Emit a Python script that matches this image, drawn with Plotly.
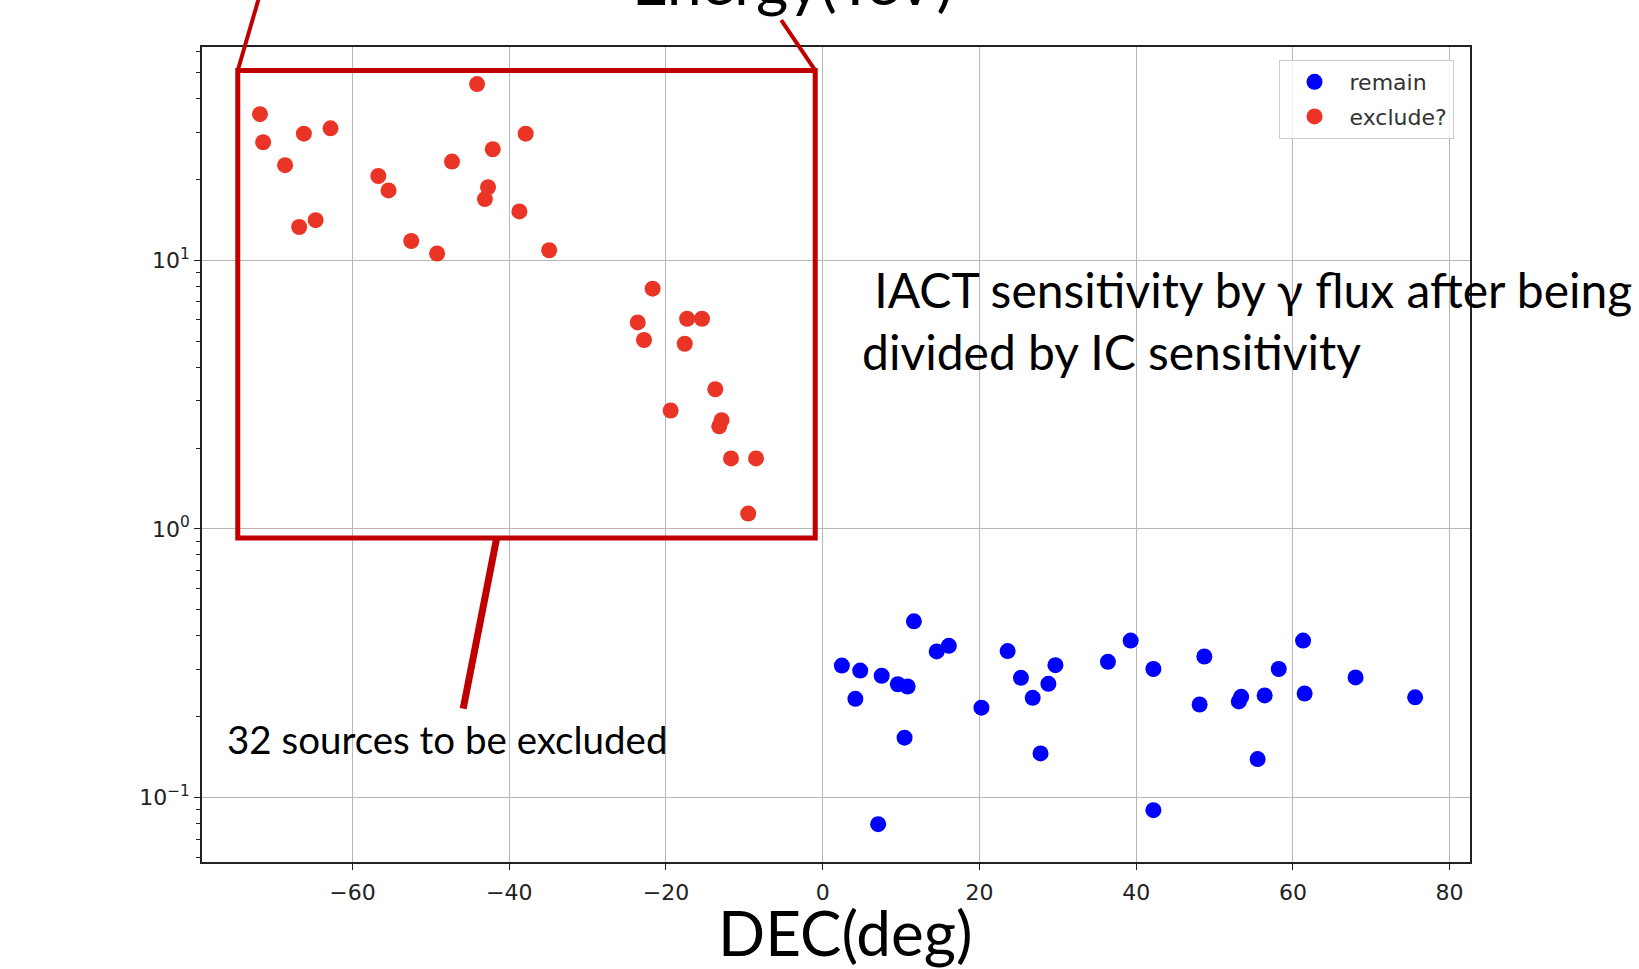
import plotly.graph_objects as go

# ---- data ----
exclude_dec = [-71.8, -71.4, -68.6, -66.2, -62.8, -66.8, -64.7, -56.7, -55.4, -52.5,
               -49.2, -44.1, -47.3, -42.1, -42.7, -43.1, -37.9, -38.7, -34.9, -21.7,
               -23.6, -22.8, -17.3, -15.4, -17.6, -13.7, -19.4, -12.9, -13.2, -11.7,
               -8.5, -9.5]
exclude_val = [35.0, 27.5, 22.6, 29.6, 31.0, 13.3, 14.1, 20.6, 18.2, 11.8,
               10.6, 45.3, 23.3, 25.9, 18.7, 16.9, 29.6, 15.2, 10.9, 7.84,
               5.87, 5.05, 6.06, 6.06, 4.89, 3.31, 2.76, 2.54, 2.41, 1.83,
               1.83, 1.14]

remain_dec = [2.45, 4.17, 4.79, 7.53, 7.08, 9.59, 10.84, 10.45, 11.64, 14.55,
              16.1, 20.26, 23.6, 25.3, 26.8, 27.8, 28.8, 29.7, 36.4, 39.3,
              42.2, 42.2, 48.7, 48.1, 53.1, 53.4, 56.4, 58.2, 61.3, 61.5,
              55.5, 68.0, 75.6]
remain_val = [0.310, 0.233, 0.297, 0.284, 0.0796, 0.264, 0.259, 0.167, 0.453, 0.350,
              0.367, 0.216, 0.351, 0.279, 0.235, 0.146, 0.265, 0.311, 0.320, 0.384,
              0.301, 0.0897, 0.335, 0.222, 0.228, 0.237, 0.240, 0.301, 0.384, 0.244,
              0.139, 0.280, 0.236]

x_ticks = [-60, -40, -20, 0, 20, 40, 60, 80]
x_tick_text = ["\u221260", "\u221240", "\u221220", "0", "20", "40", "60", "80"]
y_ticks = [0.1, 1, 10]
y_tick_text = ["10<sup>\u22121</sup>", "10<sup>0</sup>", "10<sup>1</sup>"]

RED = "#EA3526"
BLUE = "#0000FF"
BOX = "#C00000"

fig = go.Figure()
fig.add_trace(go.Scatter(x=remain_dec, y=remain_val, mode="markers", name="remain",
                         legendgroup="a", marker=dict(color=BLUE, size=16)))
fig.add_trace(go.Scatter(x=exclude_dec, y=exclude_val, mode="markers", name="exclude?",
                         legendgroup="b", marker=dict(color=RED, size=16)))

axis_common = dict(showline=True, linecolor="#222", linewidth=1.5, mirror=True,
                   gridcolor="#b8b8b8", gridwidth=1, ticks="outside", ticklen=6,
                   tickcolor="#222", tickfont=dict(family="DejaVu Sans", size=22, color="#222"),
                   zeroline=False)

fig.update_layout(
    width=1639, height=969,
    margin=dict(l=202, r=169, t=47, b=107),
    paper_bgcolor="white", plot_bgcolor="white",
    xaxis=dict(range=[-79.2, 82.6], tickvals=x_ticks, ticktext=x_tick_text,
               ticklabelstandoff=4, **axis_common),
    yaxis=dict(type="log", range=[-1.240, 1.794], tickvals=y_ticks, ticktext=y_tick_text,
               minor=dict(ticks="outside", ticklen=4, tickcolor="#222", dtick="D1", showgrid=False),
               **axis_common),
    legend=dict(x=0.849, y=0.984, xanchor="left", yanchor="top",
                bgcolor="rgba(255,255,255,0.8)", bordercolor="#cccccc", borderwidth=1,
                itemwidth=60, tracegroupgap=3, traceorder="grouped",
                font=dict(family="DejaVu Sans", size=22, color="#333")),
    showlegend=True,
)

# x-axis title placed as in the slide
fig.add_annotation(xref="paper", yref="paper", x=0.5072, y=-0.0855, xanchor="center", yanchor="middle",
                   text="DEC(deg)", showarrow=False, borderpad=0,
                   font=dict(family="Lato", size=62, color="black"))

# red highlight box and connector lines
fig.add_shape(type="rect", xref="paper", yref="paper", x0=0.0282, x1=0.4836, y0=0.3975, y1=0.9712,
              line=dict(color=BOX, width=5))
fig.add_shape(type="line", xref="paper", yref="paper", x0=0.0282, y0=0.9712, x1=0.0452, y1=1.062,
              line=dict(color=BOX, width=4))
fig.add_shape(type="line", xref="paper", yref="paper", x0=0.4836, y0=0.9712, x1=0.4568, y1=1.0331,
              line=dict(color=BOX, width=4))
fig.add_shape(type="line", xref="paper", yref="paper", x0=0.2324, y0=0.3975, x1=0.2060, y1=0.1881,
              line=dict(color=BOX, width=7))

fig.add_annotation(xref="paper", yref="paper", x=0.466, y=1.0337, xanchor="center", yanchor="bottom",
                   text="Energy(TeV)", showarrow=False,
                   font=dict(family="Lato", size=62, color="black"))
fig.add_annotation(xref="paper", yref="paper", x=0.519, y=0.664, xanchor="left", yanchor="middle",
                   align="left", showarrow=False,
                   text="\u00a0IACT sensitivity by \u03b3 flux after being<br>divided by IC sensitivity",
                   font=dict(family="Lato", size=48, color="black"))
fig.add_annotation(xref="paper", yref="paper", x=0.0184, y=0.151, xanchor="left", yanchor="middle",
                   text="32 sources to be excluded", showarrow=False,
                   font=dict(family="Lato", size=38.5, color="black"))

fig.write_html("out.html")
